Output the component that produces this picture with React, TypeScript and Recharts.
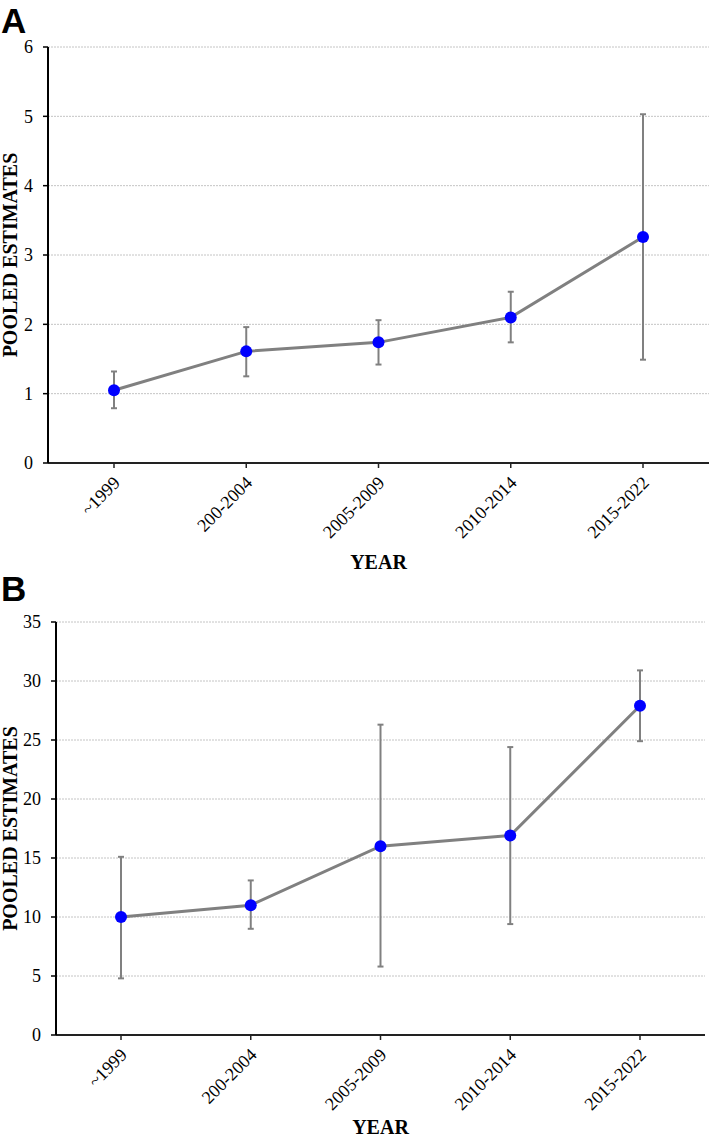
import React from "react";
import { LineChart, Line, XAxis, YAxis, CartesianGrid, ErrorBar, Label } from "recharts";

const YEARS = ["~1999", "200-2004", "2005-2009", "2010-2014", "2015-2022"];

// panel A
const A_EST = [1.05, 1.61, 1.74, 2.1, 3.26];
const A_LOW = [0.79, 1.25, 1.42, 1.74, 1.49];
const A_HIGH = [1.32, 1.96, 2.06, 2.47, 5.03];
const A_TICKS = [0, 1, 2, 3, 4, 5, 6];

// panel B
const B_EST = [10.0, 11.0, 16.0, 16.9, 27.9];
const B_LOW = [4.8, 9.0, 5.8, 9.4, 24.9];
const B_HIGH = [15.1, 13.1, 26.3, 24.4, 30.9];
const B_TICKS = [0, 5, 10, 15, 20, 25, 30, 35];

const SERIF = "Liberation Serif";

const buildRows = (est: number[], low: number[], high: number[]) =>
  YEARS.map((year, i) => ({
    year,
    est: est[i],
    err: [est[i] - low[i], high[i] - est[i]],
  }));

const XTick = (props: any) => {
  const { x, y, payload } = props;
  const ax = x + 7;
  const ay = y + 16;
  return (
    <text
      x={ax}
      y={ay}
      transform={`rotate(-45, ${ax}, ${ay})`}
      textAnchor="end"
      fontSize={18}
      fontFamily={SERIF}
      fill="#000"
    >
      {payload.value}
    </text>
  );
};

const YearLabel = (props: any) => {
  const { viewBox, baseline } = props;
  const cx = viewBox.x + viewBox.width / 2;
  return (
    <text x={cx} y={viewBox.y + baseline} textAnchor="middle" fontSize={20} fontWeight="bold" fontFamily={SERIF} fill="#000">
      YEAR
    </text>
  );
};

const PooledLabel = (props: any) => {
  const { viewBox } = props;
  const cy = viewBox.y + viewBox.height / 2;
  return (
    <text x={17} y={cy} transform={`rotate(-90, 17, ${cy})`} textAnchor="middle" fontSize={20} fontWeight="bold" fontFamily={SERIF} fill="#000">
      POOLED ESTIMATES
    </text>
  );
};

type PanelProps = {
  rows: any[];
  ticks: number[];
  max: number;
  h: number;
  top: number;
  axisW: number;
  right: number;
  xh: number;
  pad: number;
  yearBase: number;
};

const Panel = ({ rows, ticks, max, h, top, axisW, right, xh, pad, yearBase }: PanelProps) => (
  <LineChart width={710} height={h} data={rows} margin={{ top, right, bottom: 0, left: 0 }}>
    <CartesianGrid vertical={false} stroke="#c4c4c4" strokeDasharray="2 1" />
    <XAxis
      dataKey="year"
      height={xh}
      padding={{ left: pad, right: pad }}
      tick={<XTick />}
      tickSize={5}
      tickMargin={0}
      interval={0}
      axisLine={{ stroke: "#222", strokeWidth: 2 }}
      tickLine={{ stroke: "#222", strokeWidth: 1.5 }}
    >
      <Label content={<YearLabel baseline={yearBase} />} />
    </XAxis>
    <YAxis
      width={axisW}
      domain={[0, max]}
      ticks={ticks}
      interval={0}
      tickSize={5}
      tickMargin={10}
      tick={{ fontSize: 18, fontFamily: SERIF, fill: "#000" }}
      axisLine={{ stroke: "#000", strokeWidth: 2 }}
      tickLine={{ stroke: "#000", strokeWidth: 1.5 }}
    >
      <Label content={<PooledLabel />} />
    </YAxis>
    <Line
      type="linear"
      dataKey="est"
      stroke="#808080"
      strokeWidth={3}
      dot={{ r: 6, fill: "#0000ff", stroke: "#0000ff", strokeWidth: 0 }}
      activeDot={false}
      isAnimationActive={false}
    >
      <ErrorBar dataKey="err" direction="y" width={3} stroke="#808080" strokeWidth={2} />
    </Line>
  </LineChart>
);

const letterStyle: React.CSSProperties = {
  position: "absolute",
  left: 1,
  fontFamily: "'Liberation Sans', Arial, sans-serif",
  fontWeight: "bold",
  fontSize: 35,
  lineHeight: "40px",
  color: "#000",
};

export default function App() {
  return (
    <div style={{ position: "absolute", left: 0, top: 0, width: 710, height: 1140, background: "#fff", overflow: "hidden" }}>
      <div style={{ position: "absolute", left: 0, top: 0 }}>
        <Panel
          rows={buildRows(A_EST, A_LOW, A_HIGH)}
          ticks={A_TICKS}
          max={6}
          h={580}
          top={47}
          axisW={48}
          right={1}
          xh={117}
          pad={66}
          yearBase={106}
        />
      </div>
      <div style={{ position: "absolute", left: 0, top: 570 }}>
        <Panel
          rows={buildRows(B_EST, B_LOW, B_HIGH)}
          ticks={B_TICKS}
          max={35}
          h={570}
          top={52}
          axisW={56}
          right={5}
          xh={105}
          pad={65}
          yearBase={99}
        />
      </div>
      <div style={{ ...letterStyle, top: 1 }}>A</div>
      <div style={{ ...letterStyle, top: 569 }}>B</div>
    </div>
  );
}
